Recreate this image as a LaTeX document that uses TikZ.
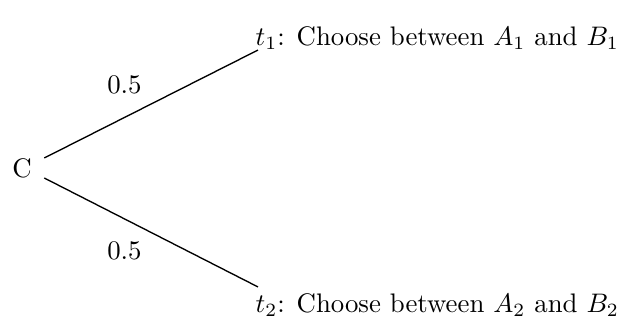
\documentclass[tikz,border=0pt]{standalone}
\usepackage{tikz}
\usetikzlibrary{positioning}

\begin{document}
\begin{tikzpicture}[x=0.373pt, y=-0.373pt,
    choice/.style={anchor=west, inner sep=3pt},
    branch/.style={draw, line width=0.5pt}]
    \useasboundingbox (0,0) rectangle (623,320);
    \node[inner sep=3pt] (C) at (22,168) {C};
    \node[choice] (t1) at (247,38) {$t_1$: Choose between $A_1$ and $B_1$};
    \node[choice] (t2) at (247,305) {$t_2$: Choose between $A_2$ and $B_2$};
    \draw[branch] ([shift={(4,-10)}]C.east) -- node[above left=0pt, pos=0.5] (pa) {0.5} ([shift={(11,-8)}]t1.south west);
    \draw[branch] ([shift={(4,10)}]C.east) -- node[below left=0pt, pos=0.5] (pb) {0.5} ([shift={(11,2)}]t2.north west);
  \end{tikzpicture}
\end{document}
